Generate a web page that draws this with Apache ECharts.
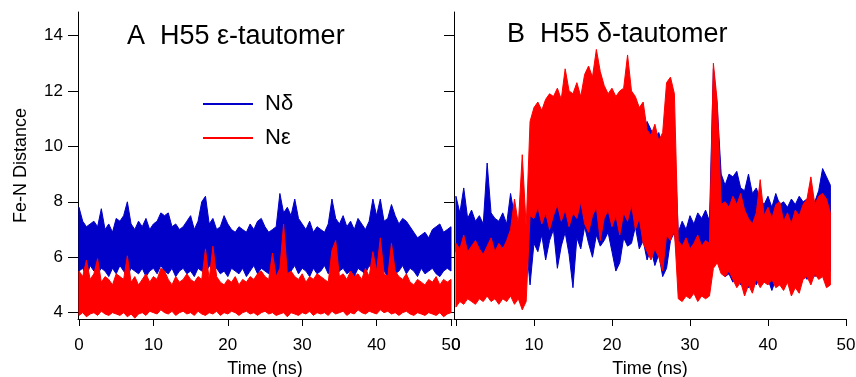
<!DOCTYPE html>
<html><head><meta charset="utf-8">
<script src="https://cdn.jsdelivr.net/npm/echarts@6/dist/echarts.min.js"></script>
<style>html,body{margin:0;padding:0;background:#fff}#c{width:856px;height:377px}</style>
</head><body><div id="c"></div>
<script>
// Tick labels
const ticksX = [0, 10, 20, 30, 40, 50];
const ticksY = [4, 6, 8, 10, 12, 14];
const seriesNames = ['N\u03b4', 'N\u03b5'];

// Panel A (epsilon tautomer): upper / lower envelope of each noisy trace, 0.5 ns bins from t = 0
const ndA_hi = [
 7.8, 7.3, 7.1, 7.2, 7.3, 7.1, 7.75, 7.0, 7.2, 6.9,
 7.4, 7.3, 7.5, 8.0, 7.2, 7.0, 7.3, 7.1, 7.4, 7.0,
 7.2, 7.3, 7.6, 7.5, 7.6, 7.1, 7.2, 7.0, 7.1, 7.3,
 7.5, 7.0, 7.3, 8.0, 8.2, 7.2, 7.4, 7.0, 7.1, 7.5,
 7.2, 7.0, 6.9, 7.1, 7.0, 6.9, 7.2, 7.0, 7.3, 7.4,
 7.1, 6.9, 7.0, 7.1, 8.3, 7.6, 7.8, 7.5, 8.1, 7.4,
 7.2, 7.0, 7.3, 6.9, 7.1, 7.0, 6.9, 7.2, 8.1, 7.4,
 7.2, 7.5, 7.1, 7.3, 7.0, 7.4, 7.2, 7.0, 7.3, 8.1,
 7.5, 8.1, 7.3, 7.4, 7.9, 7.5, 7.2, 7.4, 7.3, 7.1,
 6.9, 6.7, 6.8, 6.9, 6.7, 7.0, 7.1, 7.2, 6.9, 7.0, 7.1];
const ndA_lo = [
 5.5, 5.6, 5.3, 5.7, 5.5, 5.4, 5.6, 5.5, 5.3, 5.6,
 5.4, 5.7, 5.5, 5.3, 5.6, 5.5, 5.4, 5.6, 5.3, 5.5,
 5.6, 5.4, 5.7, 5.5, 5.4, 5.6, 5.3, 5.5, 5.6, 5.4,
 5.5, 5.3, 5.6, 5.5, 5.4, 5.7, 5.5, 5.6, 5.4, 5.5,
 5.3, 5.6, 5.5, 5.4, 5.6, 5.3, 5.5, 5.7, 5.4, 5.6,
 5.5, 5.4, 5.6, 5.3, 5.5, 5.6, 5.4, 5.5, 5.7, 5.4,
 5.6, 5.5, 5.3, 5.6, 5.4, 5.5, 5.7, 5.4, 5.6, 5.3,
 5.5, 5.6, 5.4, 5.5, 5.3, 5.6, 5.5, 5.4, 5.7, 5.5,
 5.4, 5.6, 5.5, 5.3, 5.6, 5.4, 5.5, 5.7, 5.4, 5.6,
 5.5, 5.3, 5.6, 5.4, 5.5, 5.6, 5.4, 5.3, 5.5, 5.6, 5.5];
const neA_hi = [
 5.5, 5.3, 5.9, 5.2, 5.4, 5.95, 5.1, 5.3, 5.2, 5.0,
 5.4, 5.3, 5.2, 6.05, 5.1, 5.3, 5.0, 5.2, 5.4, 5.1,
 5.3, 5.2, 5.6, 5.5, 5.2, 5.0, 5.3, 5.1, 5.2, 5.4,
 5.2, 5.1, 5.3, 5.2, 6.3, 5.2, 6.4, 5.3, 5.1, 5.0,
 5.2, 5.1, 5.3, 5.0, 5.2, 5.1, 5.3, 5.2, 5.4, 5.5,
 5.3, 5.2, 6.15, 5.3, 5.6, 7.2, 5.4, 5.5, 5.3, 5.2,
 5.4, 5.1, 5.3, 5.2, 5.4, 5.3, 5.2, 5.1, 6.25, 6.6,
 5.3, 5.4, 5.2, 5.5, 5.3, 5.4, 5.2, 5.6, 5.3, 6.2,
 5.5, 6.7, 5.4, 5.3, 6.5, 5.5, 5.3, 5.2, 5.4, 5.1,
 5.0, 5.2, 5.1, 5.0, 5.2, 5.1, 5.3, 5.0, 5.2, 5.1, 5.2];
const neA_lo = [
 3.9, 4.0, 3.85, 3.95, 4.0, 3.9, 4.05, 3.95, 3.9, 4.0,
 3.95, 3.9, 4.0, 3.85, 3.95, 3.8, 3.95, 4.0, 3.9, 4.05,
 4.0, 3.95, 4.1, 4.0, 3.95, 4.05, 3.9, 4.0, 4.05, 3.95,
 4.0, 3.9, 4.05, 3.95, 3.9, 4.0, 3.95, 4.05, 3.9, 4.0,
 3.95, 4.05, 4.0, 3.9, 4.0, 4.05, 3.95, 4.0, 3.9, 4.0,
 4.05, 3.95, 4.0, 3.9, 3.95, 4.0, 3.85, 4.0, 3.95, 3.9,
 4.0, 3.95, 4.05, 3.9, 4.0, 3.95, 4.0, 3.9, 4.05, 3.95,
 4.0, 4.05, 3.9, 4.0, 3.95, 4.1, 4.0, 3.95, 4.05, 4.0,
 3.95, 4.1, 4.0, 4.05, 3.95, 4.0, 3.9, 4.0, 4.05, 3.95,
 3.9, 4.0, 3.95, 3.9, 4.0, 3.95, 3.9, 4.0, 3.85, 3.95, 4.0];

// Panel B (delta tautomer): same representation, 0.5 ns bins from t = 0 to 48 ns
const ndB_hi = [
 8.2, 7.6, 8.5, 7.4, 7.7, 7.3, 7.5, 7.2, 9.4, 7.6,
 7.4, 7.3, 7.6, 7.2, 8.3, 7.5, 7.1, 7.3, 7.0, 7.4,
 9.5, 10.2, 10.8, 9.8, 10.3, 11.7, 9.9, 10.5, 11.2, 9.6,
 10.1, 9.4, 10.0, 9.7, 10.4, 9.5, 10.2, 9.8, 11.3, 10.0,
 9.6, 10.3, 9.9, 10.1, 10.6, 10.8, 10.5, 10.7, 10.4,
 10.9, 10.6, 10.3, 10.5, 10.0, 9.8, 11.5, 10.2,
 6.9, 7.3, 7.0, 7.5, 7.2, 7.6, 7.4, 7.7, 7.3,
 12.8, 11.4, 9.0,
 8.6, 9.0, 8.9, 9.1, 8.5, 8.4, 9.0, 8.3, 8.5, 8.1, 7.9, 8.2, 7.8, 8.3,
 7.9, 8.0, 7.8, 8.1, 7.9, 8.2, 8.0, 8.1, 8.2, 8.0, 8.4, 9.2, 8.9, 8.6];
const ndB_lo = [
 6.2, 5.9, 6.3, 6.0, 6.4, 6.1, 6.2, 5.9, 6.3, 6.0,
 6.2, 6.1, 6.4, 6.0, 6.2, 6.3, 6.1, 6.4, 6.5, 5.0,
 6.5, 6.2, 6.8, 5.9, 6.6, 7.0, 5.6, 6.4, 6.9, 6.1,
 4.9, 6.7, 6.3, 7.1, 6.5, 6.0, 6.8, 6.4, 6.6, 6.9,
 6.2, 5.5, 5.8, 6.7, 6.4, 6.5, 7.1, 6.3, 6.6,
 5.9, 6.3, 5.7, 6.1, 5.3, 5.6, 6.6, 6.9,
 5.6, 5.8, 5.5, 5.9, 5.7, 5.6, 5.8, 5.5, 5.7,
 6.5, 6.0, 5.6,
 5.3, 5.4, 5.1, 5.3, 5.0, 5.2, 4.9, 5.2, 5.0, 5.3, 5.1, 5.2, 4.8, 5.2,
 5.0, 5.3, 5.1, 5.2, 4.9, 5.3, 5.4, 5.2, 5.5, 5.3, 5.4, 5.5, 5.4, 5.5];
const neB_hi = [
 6.5, 6.3, 6.8, 6.2, 6.4, 6.6, 6.3, 6.1, 6.4, 6.7,
 6.2, 6.5, 6.3, 6.6, 7.0, 8.1, 7.2, 9.7, 7.1, 10.9,
 11.4, 11.6, 11.3, 11.7, 11.9, 11.8, 12.1, 11.7, 12.8, 12.0,
 11.9, 12.3, 11.8, 12.6, 12.9, 12.5, 13.5, 12.7, 12.2, 11.9,
 12.1, 11.8, 12.0, 12.1, 13.3, 12.0, 11.8, 11.4, 11.6,
 10.6, 10.4, 10.8, 10.2, 10.5, 12.3, 12.5, 11.9,
 6.6, 6.4, 6.7, 6.3, 6.5, 6.8, 6.4, 6.6, 6.5,
 13.0, 11.6, 7.9,
 8.0, 7.8, 8.2, 7.9, 8.3, 7.7, 7.4, 7.2, 7.6, 8.8, 7.5, 7.8, 7.4, 7.9,
 8.0, 7.3, 7.6, 7.2, 7.7, 7.5, 7.9, 8.1, 8.9, 7.9, 8.2, 8.3, 8.1, 7.6];
const neB_lo = [
 4.2, 4.4, 4.3, 4.5, 4.4, 4.3, 4.5, 4.4, 4.6, 4.4,
 4.5, 4.3, 4.5, 4.4, 4.6, 4.3, 4.5, 4.1, 4.4, 7.5,
 7.4, 7.8, 7.2, 7.6, 7.0, 7.5, 7.9, 7.3, 7.7, 7.1,
 7.6, 7.4, 8.0, 7.2, 6.9, 7.5, 7.8, 6.6, 7.4, 7.7,
 7.1, 7.5, 6.8, 7.6, 7.3, 7.9, 7.0, 7.4, 6.5,
 6.2, 5.9, 6.3, 6.0, 5.5, 6.8, 6.6, 7.0,
 4.5, 4.4, 4.6, 4.5, 4.7, 4.4, 4.6, 4.5, 4.6,
 5.6, 5.8, 5.4,
 5.3, 5.5, 5.2, 4.9, 5.1, 4.6, 5.0, 4.7, 5.2, 4.9, 5.1, 5.0, 5.2, 4.9,
 5.0, 4.8, 5.1, 4.6, 4.9, 4.7, 5.2, 5.3, 5.0, 5.4, 5.2, 5.3, 4.9, 5.0];

const BIN = 0.5;

const FONT = "'Liberation Sans', Arial, Helvetica, sans-serif";
const BLUE = '#0000c8';
const RED = '#ff0000';

function xAxisCfg(idx, min, max) {
  return {
    gridIndex: idx, type: 'value', min: min, max: max,
    name: 'Time (ns)', nameLocation: 'middle', nameGap: 41,
    nameTextStyle: { fontSize: 18, color: '#000', fontFamily: FONT },
    axisLine: { show: true, onZero: false, lineStyle: { color: '#000', width: 1 } },
    axisTick: { show: true, inside: false, length: 7, customValues: ticksX, lineStyle: { color: '#000' } },
    axisLabel: { show: true, customValues: ticksX, fontSize: 17, color: '#000', margin: 18, fontFamily: FONT },
    splitLine: { show: false }
  };
}
function yAxisCfg(idx, labels) {
  return {
    gridIndex: idx, type: 'value', min: 3.77, max: 14.85,
    name: labels ? 'Fe-N Distance' : '', nameLocation: 'middle', nameGap: 48,
    nameTextStyle: { fontSize: 18, color: '#000', fontFamily: FONT },
    axisLine: { show: true, onZero: false, lineStyle: { color: '#000', width: 1 } },
    axisTick: { show: true, inside: false, length: 10, customValues: ticksY, lineStyle: { color: '#000' } },
    axisLabel: { show: labels, customValues: ticksY, fontSize: 17, color: '#000', margin: 15, fontFamily: FONT },
    splitLine: { show: false }
  };
}
// Filled band between the lower and upper envelope of one noisy trace,
// positioned through the axes of its grid (api.coord).
function band(name, color, xi, hi, lo) {
  const data = hi.map((v, i) => [i * BIN, lo[i], v]);
  return {
    name: name, type: 'custom', xAxisIndex: xi, yAxisIndex: xi,
    data: data, encode: { x: 0, y: [1, 2] }, clip: true, silent: true,
    itemStyle: { color: color },
    renderItem: function (params, api) {
      if (params.dataIndex !== 0) return null;
      const pts = [];
      for (let i = 0; i < data.length; i++) pts.push(api.coord([data[i][0], data[i][2]]));
      for (let i = data.length - 1; i >= 0; i--) pts.push(api.coord([data[i][0], data[i][1]]));
      return {
        type: 'polygon',
        shape: { points: pts },
        style: { fill: color, stroke: color, lineWidth: 1, lineJoin: 'miter', miterLimit: 20 }
      };
    }
  };
}

const chart = echarts.init(document.getElementById('c'), null, { renderer: 'canvas' });
chart.setOption({
  animation: false,
  backgroundColor: '#fff',
  textStyle: { fontFamily: FONT },
  title: [
    { text: 'A  H55 \u03b5-tautomer', left: 127, top: 23, padding: 0, textStyle: { fontSize: 27, fontWeight: 'normal', color: '#000', fontFamily: FONT } },
    { text: 'B  H55 \u03b4-tautomer', left: 507, top: 21, padding: 0, textStyle: { fontSize: 27, fontWeight: 'normal', color: '#000', fontFamily: FONT } }
  ],
  legend: {
    data: seriesNames, orient: 'vertical', left: 203, top: 93, padding: 0,
    itemWidth: 50, itemHeight: 2, itemGap: 12, icon: 'rect',
    textStyle: { fontSize: 22, color: '#000', fontFamily: FONT, padding: [0, 0, 0, 7] }
  },
  grid: [
    { left: 78, top: 12, width: 374, height: 307, containLabel: false, outerBoundsMode: 'none' },
    { left: 454, top: 12, width: 392, height: 307, containLabel: false, outerBoundsMode: 'none' }
  ],
  xAxis: [xAxisCfg(0, -0.134, 50.134), xAxisCfg(1, -0.25, 50)],
  yAxis: [yAxisCfg(0, true), yAxisCfg(1, false)],
  series: [
    band(seriesNames[0], BLUE, 0, ndA_hi, ndA_lo),
    band(seriesNames[1], RED, 0, neA_hi, neA_lo),
    band(seriesNames[0], BLUE, 1, ndB_hi, ndB_lo),
    band(seriesNames[1], RED, 1, neB_hi, neB_lo)
  ]
});
</script>
</body></html>
